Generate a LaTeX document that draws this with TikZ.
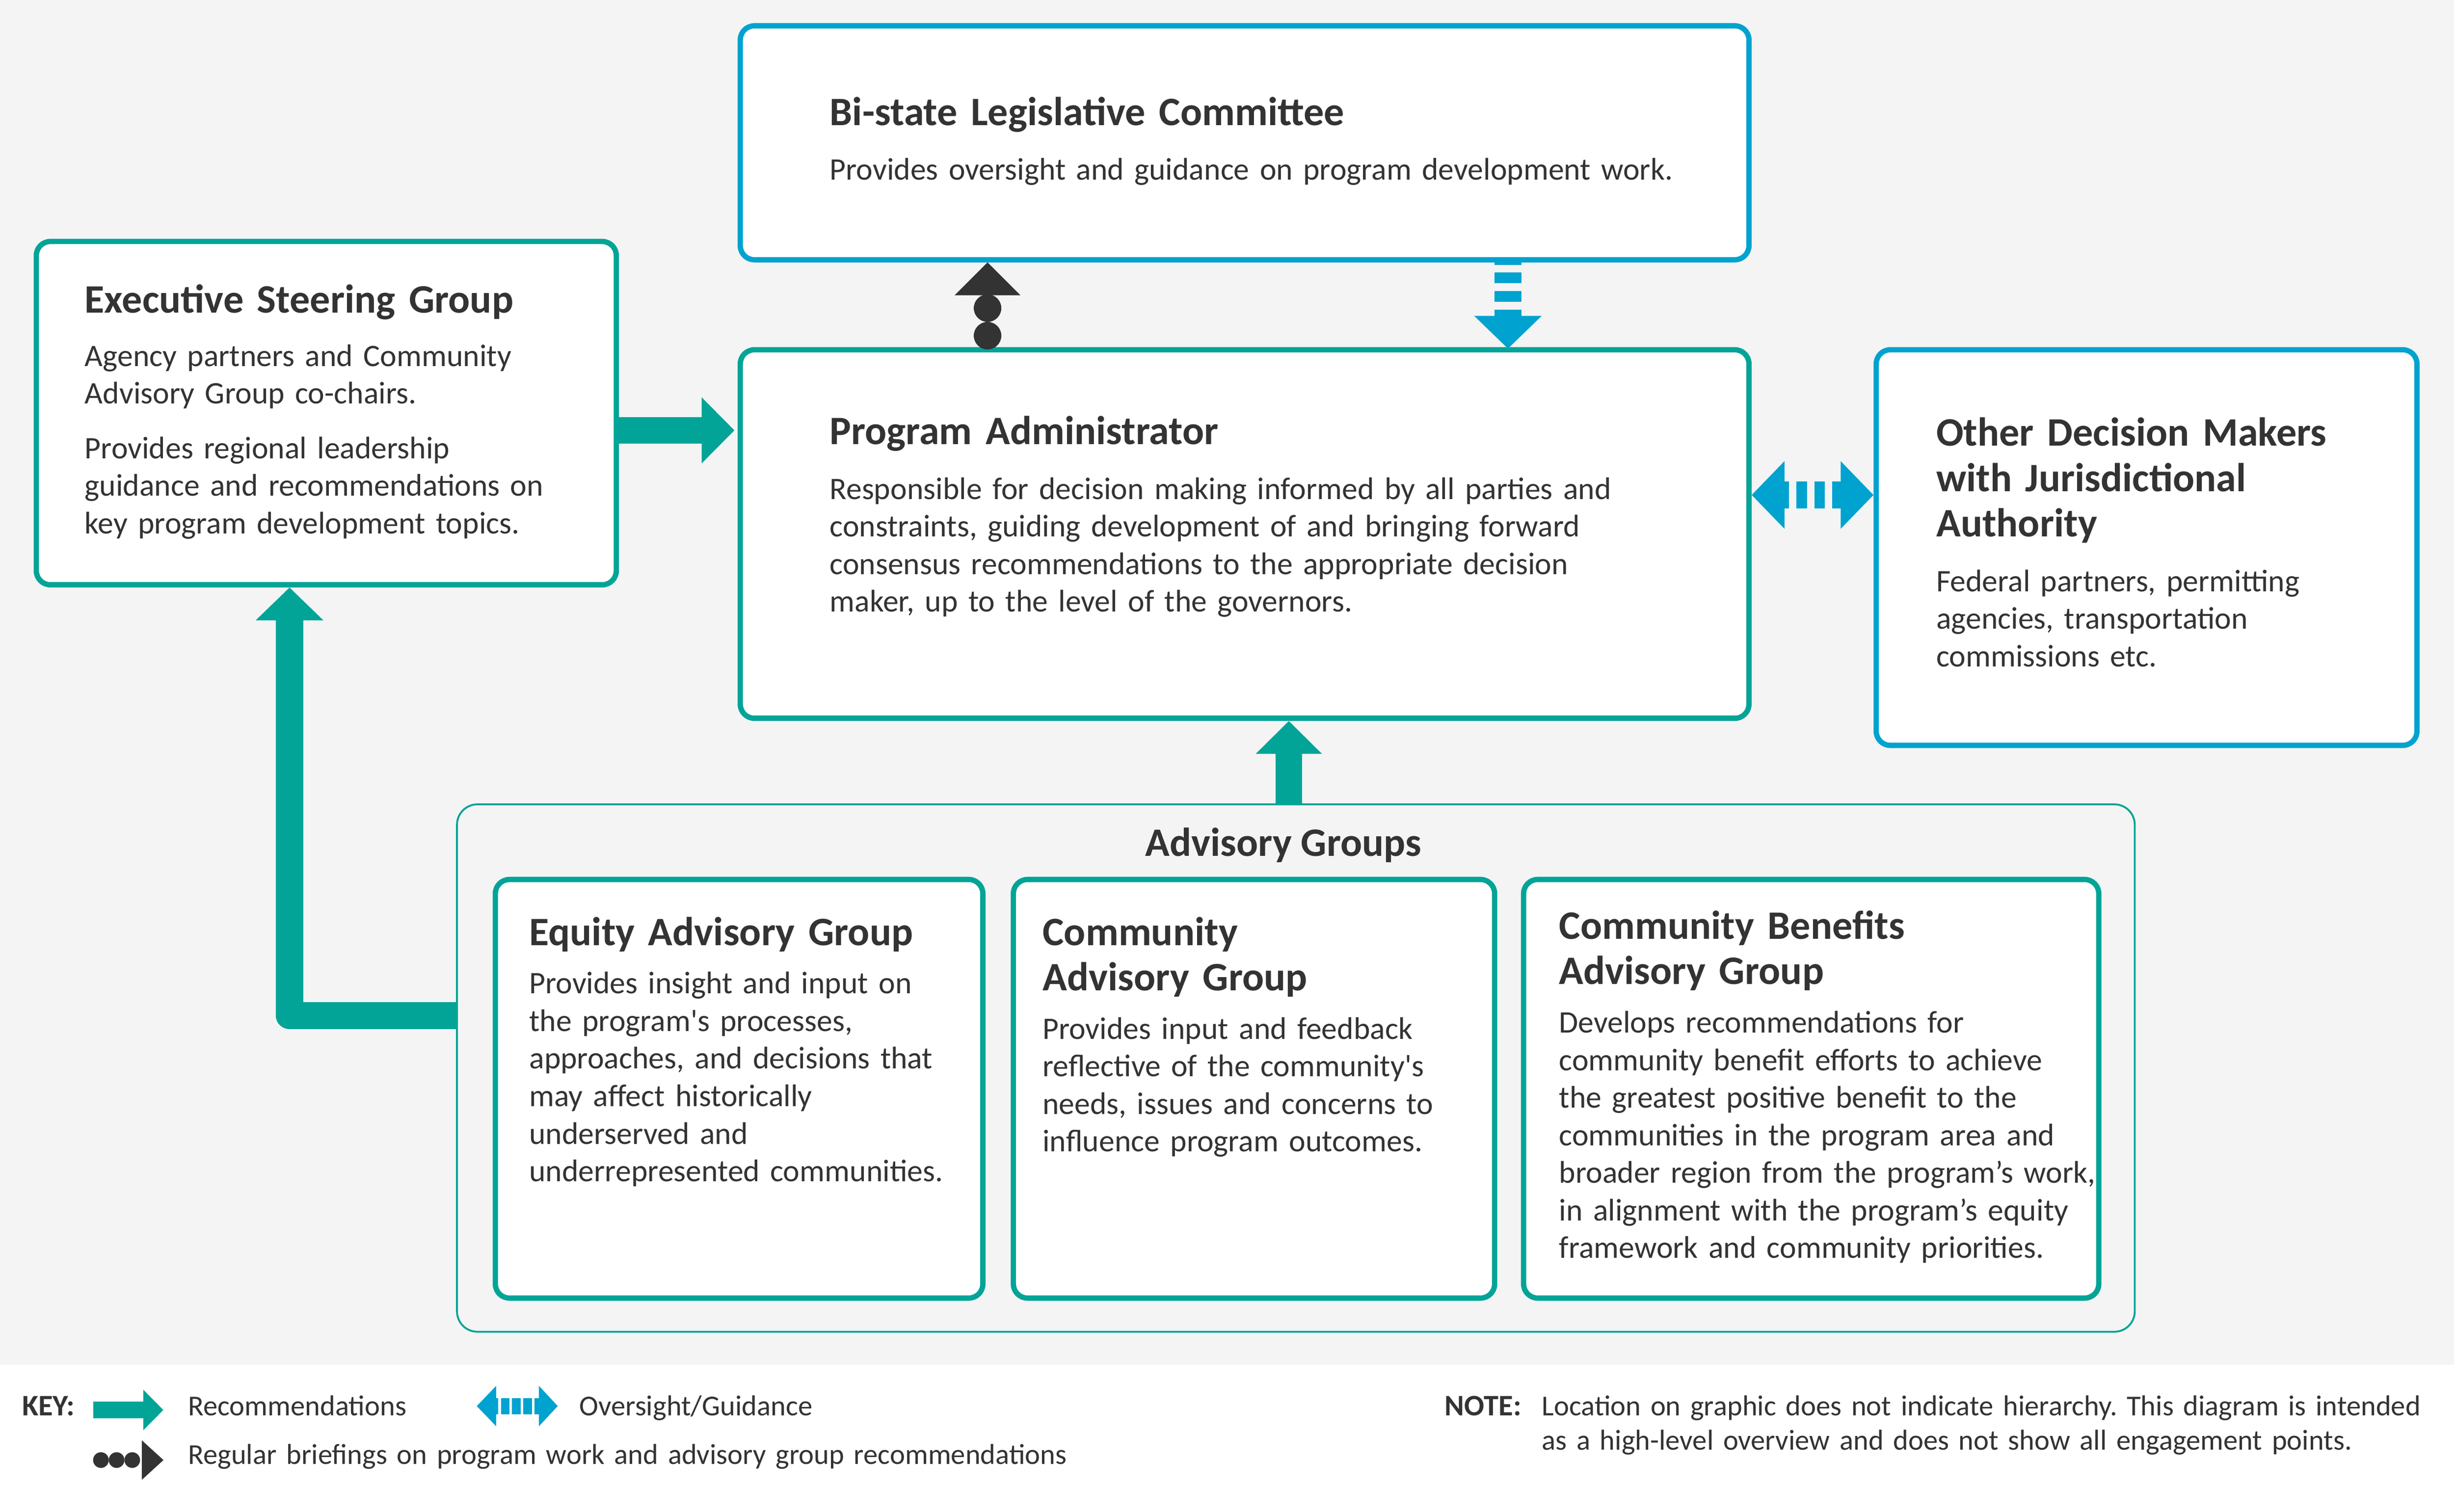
\documentclass[tikz,border=0pt]{standalone}
\usepackage{fontspec}
\setmainfont{Carlito}
\newfontfamily\straightq{Carlito}
\newcommand{\sq}{{\straightq'}}
\usetikzlibrary{arrows.meta,calc}
\definecolor{tealc}{HTML}{02A497}
\definecolor{bluec}{HTML}{00A3CF}
\definecolor{ink}{HTML}{333333}
\definecolor{bggray}{HTML}{F4F4F4}
\frenchspacing
\begin{document}
\begin{tikzpicture}[x=1pt,y=-1pt,
  box/.style={draw, line width=3.4pt, fill=white, rounded corners=9pt, inner sep=0pt},
  tealbox/.style={box, draw=tealc},
  bluebox/.style={box, draw=bluec},
  ttl/.style={anchor=base west, inner sep=0pt, text=ink, align=left, text width=500pt,
    font=\fontsize{25.8}{29}\selectfont\bfseries},
  bodytxt/.style={anchor=base west, inner sep=0pt, text=ink, align=left, text width=600pt,
    font=\fontsize{20}{24}\selectfont},
  keytxt/.style={anchor=base west, inner sep=0pt, text=ink, align=left, text width=700pt,
    font=\fontsize{18.4}{22}\selectfont},
  keybold/.style={anchor=base west, inner sep=0pt, text=ink,
    font=\fontsize{19}{22}\selectfont\bfseries},
  rec/.style={draw=tealc, line width=17pt, -{Triangle[length=21pt,width=41pt]}},
  ovs/.style={draw=bluec, line width=17.2pt},
  btip/.style={draw=ink, fill=ink, line width=0.01pt, -{Triangle[length=21pt,width=42pt]}},
]
\useasboundingbox (0,0) rectangle (1568,966);
\fill[white] (0,0) rectangle (1568,966);
\fill[bggray] (0,0) rectangle (1568,872);

% boxes
\node[bluebox, minimum width=644.5pt, minimum height=149.5pt] (bslc) at (795.25,91.25) {};
\node[tealbox, minimum width=370.6pt, minimum height=219.4pt] (esg) at (208.5,264) {};
\node[tealbox, minimum width=644.5pt, minimum height=235.5pt] (pa) at (795.25,341.25) {};
\node[bluebox, minimum width=345.5pt, minimum height=252.8pt] (odm) at (1371.55,349.9) {};
\node[draw=tealc, line width=1.2pt, fill=bggray, rounded corners=13pt, inner sep=0pt,
  minimum width=1072pt, minimum height=337pt] (adv) at (828,682.5) {};
\node[tealbox, minimum width=311.5pt, minimum height=267.5pt] (eag) at (472.25,695.75) {};
\node[tealbox, minimum width=307.5pt, minimum height=267.5pt] (cag) at (801.25,695.75) {};
\node[tealbox, minimum width=367.5pt, minimum height=267.5pt] (cbag) at (1157.25,695.75) {};

% texts
\node[ttl] (bslcT) at (530,80) {Bi-state Legislative Committee};
\node[bodytxt] (bslcB) at (530,115) {Provides oversight and guidance on program development work.};

\node[ttl] (esgT) at (54,200) {Executive Steering Group};
\node[bodytxt] (esgB) at (54,234) {Agency partners and Community\\Advisory Group co-chairs.\\[11pt]Provides regional leadership\\guidance and recommendations on\\key program development topics.};

\node[ttl] (paT) at (530,284) {Program Administrator};
\node[bodytxt] (paB) at (530,319) {Responsible for decision making informed by all parties and\\constraints, guiding development of and bringing forward\\consensus recommendations to the appropriate decision\\maker, up to the level of the governors.};

\node[ttl] (odmT) at (1237,285) {Other Decision Makers\\with Jurisdictional\\Authority};
\node[bodytxt] (odmB) at (1237,378) {Federal partners, permitting\\agencies, transportation\\commissions etc.};

\node[anchor=base, inner sep=0pt, text=ink, font=\fontsize{25.8}{29}\selectfont\bfseries] (advT) at (820,547) {Advisory Groups};

\node[ttl] (eagT) at (338,604) {Equity Advisory Group};
\node[bodytxt] (eagB) at (338,635) {Provides insight and input on\\the program\sq s processes,\\approaches, and decisions that\\may affect historically\\underserved and\\underrepresented communities.};

\node[ttl] (cagT) at (666,604) {Community\\Advisory Group};
\node[bodytxt] (cagB) at (666,664) {Provides input and feedback\\reflective of the community\sq s\\needs, issues and concerns to\\influence program outcomes.};

\node[ttl] (cbagT) at (996,600) {Community Benefits\\Advisory Group};
\node[bodytxt] (cbagB) at (996,660) {Develops recommendations for\\community benefit efforts to achieve\\the greatest positive benefit to the\\communities in the program area and\\broader region from the program’s work,\\in alignment with the program’s equity\\framework and community priorities.};

% connectors
\coordinate (r1) at (0,275);
\draw[rec, shorten >=2pt] (esg.east |- r1) -- (pa.west |- r1);

\coordinate (u1) at (823.5,0);
\draw[rec] (adv.north -| u1) -- (pa.south -| u1);

\coordinate (b1) at (0,649);
\coordinate (b2) at (185,0);
\draw[rec, line width=17.5pt, line join=round, -{Triangle[length=21pt,width=42pt]}] (adv.west |- b1) -| (esg.south -| b2);

% briefings (dots + tip)
\coordinate (brd1) at (631,196.9);
\coordinate (brd2) at (631,214.5);
\coordinate (brb) at (631,188.1);
\fill[ink] (brd1) circle[radius=8.8pt];
\fill[ink] (brd2) circle[radius=8.8pt];
\draw[btip] (brb) -- (bslc.south -| brb);

% oversight down
\coordinate (dx) at (963.5,0);
\draw[ovs, dash pattern=on 7pt off 4.9pt, dash phase=5.5pt, -{Triangle[length=21pt,width=42pt]}, shorten >=-1pt] (bslc.south -| dx) -- (pa.north -| dx);

% oversight double
\coordinate (dy) at (0,316.3);
\draw[ovs, dash pattern=on 6.8pt off 4.7pt, dash phase=2.6pt, {Triangle[length=21pt,width=42pt]}-{Triangle[length=21pt,width=42pt]}] (pa.east |- dy) -- (odm.west |- dy);

% key
\node[keybold] (keyL) at (14,904.5) {KEY:};
\coordinate (k1a) at (59.5,901);
\coordinate (k1b) at (104.4,901);
\draw[draw=tealc, line width=10.5pt, -{Triangle[length=12.8pt,width=25pt]}] (k1a) -- (k1b);
\node[keytxt] (keyR) at (120,904.5) {Recommendations};

\coordinate (k2a) at (304.6,898.5);
\coordinate (k2b) at (356.4,898.5);
\draw[draw=bluec, line width=10.4pt, dash pattern=on 5.4pt off 1.8pt, dash phase=3.4pt, {Triangle[length=12.4pt,width=25pt]}-{Triangle[length=12pt,width=25pt]}] (k2a) -- (k2b);
\node[keytxt] (keyO) at (370,904.5) {Oversight/Guidance};

\coordinate (k3d1) at (64.5,933);
\coordinate (k3d2) at (74.5,933);
\coordinate (k3d3) at (84.5,933);
\coordinate (k3a) at (90.7,933);
\coordinate (k3b) at (104.4,933);
\fill[ink] (k3d1) circle[radius=5pt];
\fill[ink] (k3d2) circle[radius=5pt];
\fill[ink] (k3d3) circle[radius=5pt];
\draw[draw=ink, fill=ink, line width=0.01pt, -{Triangle[length=13.7pt,width=25pt]}] (k3a) -- (k3b);
\node[keytxt] (keyB) at (120,935.5) {Regular briefings on program work and advisory group recommendations};

\node[keybold] (noteL) at (923,904.5) {NOTE:};
\node[keytxt] (noteT) at (985,904.5) {Location on graphic does not indicate hierarchy. This diagram is intended\\as a high-level overview and does not show all engagement points.};
\end{tikzpicture}
\end{document}
